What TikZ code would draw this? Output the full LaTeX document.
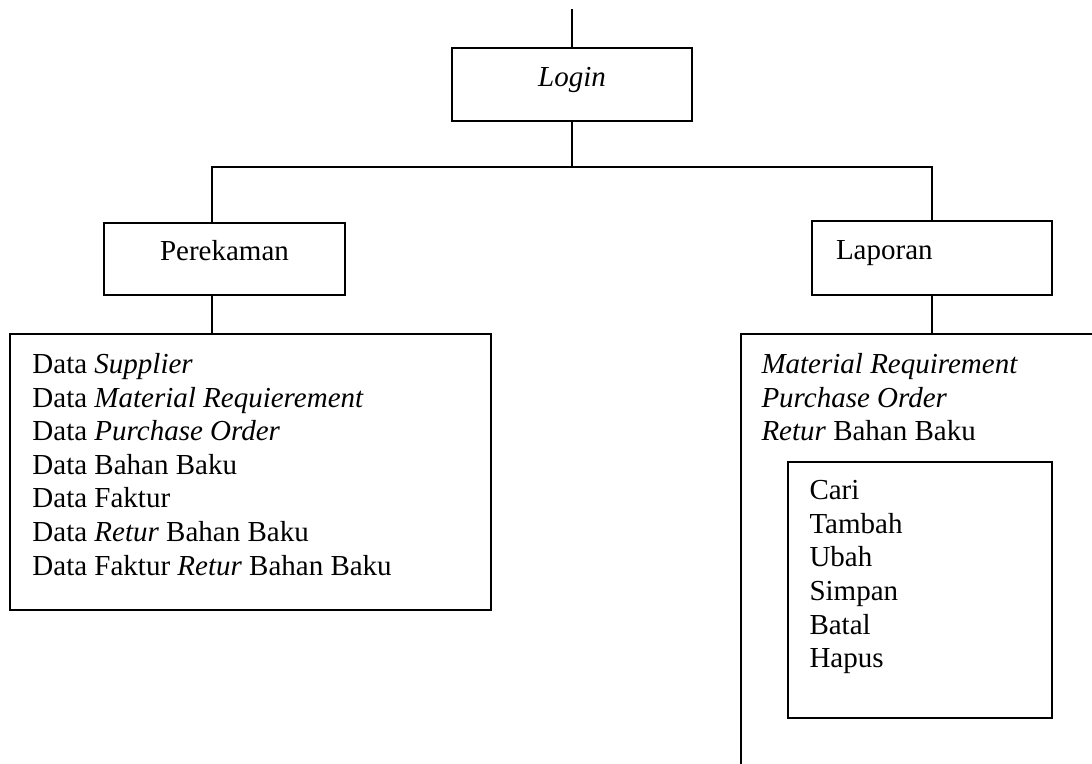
\documentclass[tikz,border=0pt]{standalone}
\usepackage{fontspec}
\setmainfont{Liberation Serif}
\usetikzlibrary{positioning}

\def\pxu{0.4138pt}

\begin{document}
\begin{tikzpicture}[
    x=0.4138pt,
    y=-0.4138pt,
    font=\fontsize{12}{13.9}\selectfont,
    block/.style={rectangle, draw, line width=0.8pt, inner sep=0pt, text height=0.68em, text depth=0.55em},
    listblock/.style={rectangle, draw, line width=0.8pt, inner sep=0pt},
    listtext/.style={anchor=north west, align=left, inner sep=0pt},
    line/.style={line width=0.8pt}
]
\useasboundingbox (0,0) rectangle (1092,763);
\clip (0,0) rectangle (1092,763);

\node[block, minimum width=240*\pxu, minimum height=73*\pxu] (login) at (572, 84.5) {\textit{Login}};
\node[block, minimum width=241*\pxu, minimum height=72*\pxu] (rekam) at (224.5, 259) {Perekaman};
\node[block, minimum height=74*\pxu, text width=192*\pxu, align=left, inner xsep=24*\pxu] (lapor) at (932, 258) {Laporan};

\node[listblock, minimum width=481*\pxu, minimum height=276*\pxu] (datalist) at (250.5, 472) {};
\node[listtext] (datatext) at (32, 353) {Data \textit{Supplier}\\Data \textit{Material Requierement}\\Data \textit{Purchase Order}\\Data Bahan Baku\\Data Faktur\\Data \textit{Retur} Bahan Baku\\Data Faktur \textit{Retur} Bahan Baku};

\node[listblock, minimum width=380*\pxu, minimum height=470*\pxu] (laporlist) at (931, 569) {};
\node[listtext] (laportext) at (761, 353) {\textit{Material Requirement}\\\textit{Purchase Order}\\\textit{Retur} Bahan Baku};

\node[listblock, minimum width=264*\pxu, minimum height=256*\pxu] (aksi) at (920, 590) {};
\node[listtext] (aksitext) at (809, 480) {Cari\\Tambah\\Ubah\\Simpan\\Batal\\Hapus};

\coordinate (entry) at (572, 9);
\coordinate (split) at (572, 167);
\coordinate (lbranch) at (212, 167);
\coordinate (rbranch) at (932, 167);

\draw[line] (entry) -- (login.north);
\draw[line] (login.south) -- (split);
\draw[line] (lbranch |- rekam.north) -- (lbranch) -- (rbranch) -- (lapor.north);
\draw[line] (lbranch |- rekam.south) -- (lbranch |- datalist.north);
\draw[line] (lapor.south) -- (lapor.south |- laporlist.north);
\end{tikzpicture}
\end{document}
